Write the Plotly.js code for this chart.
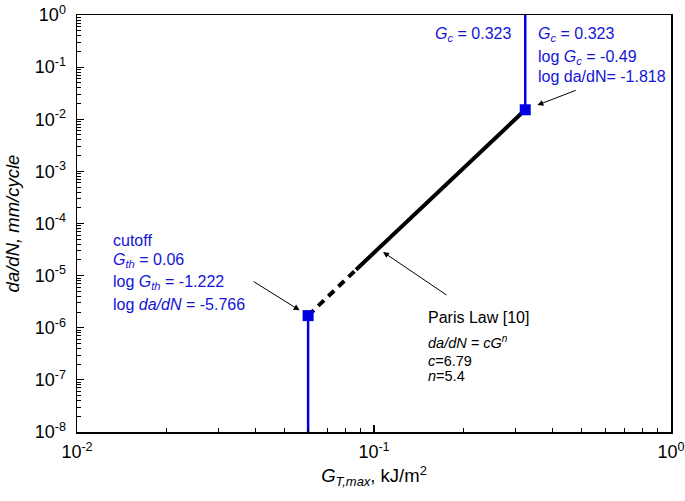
<!DOCTYPE html>
<html><head><meta charset="utf-8">
<script src="https://cdn.plot.ly/plotly-3.0.1.min.js"></script>
<style>html,body{margin:0;padding:0;background:#fff}</style>
</head><body><div id="chart" style="width:685px;height:501px"></div>
<script>
// Paris law segment (dashed extrapolation + solid fit)
const parisDashG = [0.06, 0.087];
const parisDashRate = [1.71e-6, 1.30e-5];
const parisSolidG = [0.087, 0.323];
const parisSolidRate = [1.30e-5, 0.0152];
// threshold (cutoff) and critical vertical lines
const thresholdG = [0.06, 0.06];
const thresholdRate = [1e-8, 1.71e-6];
const criticalG = [0.323, 0.323];
const criticalRate = [0.0152, 1];
// marked points
const markerG = [0.06, 0.323];
const markerRate = [1.71e-6, 0.0152];
// tick labels
const xDecades = [-2, -1, 0];
const yDecades = [-8, -7, -6, -5, -4, -3, -2, -1, 0];

const FONT = 'Liberation Sans, Arial, Helvetica, sans-serif';
const BLUE = 'rgb(0,0,225)';
const BLUE_TXT = 'rgb(20,20,215)';

function majorVals(decs){ return decs.map(d => Math.pow(10, d)); }
function majorText(decs){ return decs.map(d => '10<sup>' + d + '</sup>'); }
function minorVals(decs){
  const out = [];
  for (let i = 0; i < decs.length - 1; i++)
    for (let k = 2; k <= 9; k++) out.push(k * Math.pow(10, decs[i]));
  return out;
}

const traces = [
  {x: thresholdG, y: thresholdRate, mode: 'lines', line: {color: BLUE, width: 2.5}, hoverinfo: 'skip'},
  {x: criticalG, y: criticalRate, mode: 'lines', line: {color: BLUE, width: 2.5}, hoverinfo: 'skip'},
  {x: parisDashG, y: parisDashRate, mode: 'lines', line: {color: 'black', width: 4, dash: '8px,6px'}},
  {x: parisSolidG, y: parisSolidRate, mode: 'lines', line: {color: 'black', width: 4}},
  {x: markerG, y: markerRate, mode: 'markers', marker: {symbol: 'square', size: 11, color: BLUE}}
];

function txt(text, px, py, color, size){
  return {xref: 'paper', yref: 'paper', x: (px - 77) / 594, y: (432 - py) / 417,
    xanchor: 'left', yanchor: 'middle', showarrow: false, text: text,
    font: {family: FONT, size: size || 16, color: color || BLUE_TXT}};
}

const annotations = [
  txt('<i>G</i><sub><i>c</i></sub> = 0.323', 433, 34),
  txt('<i>G</i><sub><i>c</i></sub> = 0.323', 536, 34),
  txt('log <i>G</i><sub><i>c</i></sub> = -0.49', 536, 57),
  txt('log da/dN= -1.818', 536, 77),
  txt('cutoff', 111, 240),
  txt('<i>G</i><sub><i>th</i></sub> = 0.06', 111, 260),
  txt('log <i>G</i><sub><i>th</i></sub> = -1.222', 111, 282),
  txt('log <i>da/dN</i> = -5.766', 111, 304),
  txt('Paris Law [10]', 426, 317, 'black', 16),
  txt('<i>da/dN = cG<sup>n</sup></i>', 426, 342, 'black', 14.5),
  txt('<i>c</i>=6.79', 426, 361, 'black', 14.5),
  txt('<i>n</i>=5.4', 426, 376, 'black', 14.5),
  {xref: 'x', yref: 'y', x: Math.log10(markerG[1]), y: Math.log10(markerRate[1]),
   ax: 52, ay: -20, axref: 'pixel', ayref: 'pixel', showarrow: true, arrowhead: 2,
   arrowsize: 1.2, arrowwidth: 1, arrowcolor: 'black', standoff: 13, text: ''},
  {xref: 'x', yref: 'y', x: Math.log10(markerG[0]), y: Math.log10(markerRate[0]),
   ax: -56, ay: -35, axref: 'pixel', ayref: 'pixel', showarrow: true, arrowhead: 2,
   arrowsize: 1.2, arrowwidth: 1, arrowcolor: 'black', standoff: 10, text: ''},
  {xref: 'paper', yref: 'paper', x: (383 - 77) / 594, y: (432 - 252) / 417,
   ax: 65, ay: 44, showarrow: true, arrowhead: 2,
   arrowsize: 1.2, arrowwidth: 1, arrowcolor: 'black', text: ''}
];

const axisCommon = {
  type: 'log', showgrid: false, zeroline: false, showline: true, linecolor: 'black',
  linewidth: 1.5, mirror: true, ticks: 'inside', ticklen: 7, tickwidth: 1.2, tickcolor: 'black',
  tickmode: 'array', tickfont: {family: FONT, size: 18, color: 'black'}
};

const layout = {
  width: 685, height: 501,
  margin: {l: 77, r: 14, t: 15, b: 69},
  paper_bgcolor: 'white', plot_bgcolor: 'white',
  showlegend: false,
  xaxis: Object.assign({}, axisCommon, {
    range: [-2, 0],
    tickvals: majorVals(xDecades), ticktext: majorText(xDecades),
    minor: {ticks: 'inside', ticklen: 4, tickwidth: 1, tickcolor: 'black', tickmode: 'array', tickvals: minorVals(xDecades)},
    ticklabelstandoff: 3,
    title: {text: '<i>G</i><sub><i>T,max</i></sub>, kJ/m<sup>2</sup>', font: {family: FONT, size: 18.5, color: 'black'}, standoff: 8}
  }),
  yaxis: Object.assign({}, axisCommon, {
    range: [-8, 0],
    tickvals: majorVals(yDecades), ticktext: majorText(yDecades),
    minor: {ticks: 'inside', ticklen: 4, tickwidth: 1, tickcolor: 'black', tickmode: 'array', tickvals: minorVals(yDecades)},
    ticklabelstandoff: 6,
    title: {text: '<i>da/dN, mm/cycle</i>', font: {family: FONT, size: 18.5, color: 'black'}, standoff: 10}
  }),
  annotations: annotations
};

Plotly.newPlot('chart', traces, layout, {displayModeBar: false, staticPlot: true});
</script></body></html>
